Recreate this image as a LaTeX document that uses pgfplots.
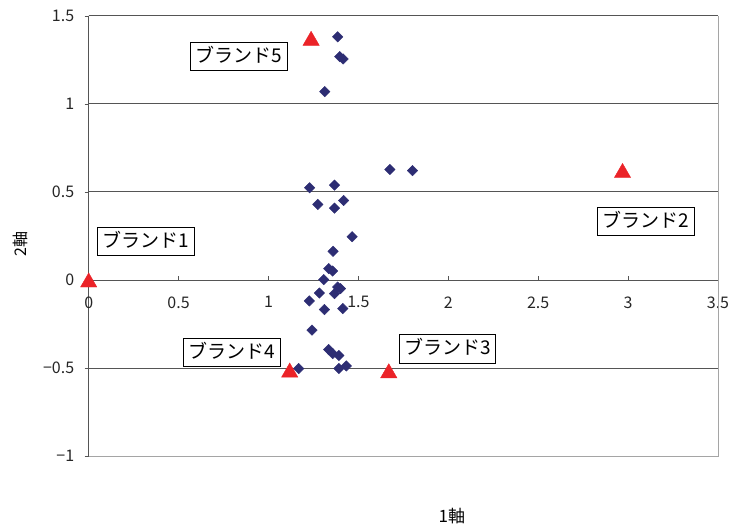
\documentclass[border=0pt]{standalone}
\usepackage{fontspec}
\setmainfont{Noto Sans CJK JP}
\usepackage{pgfplots}
\pgfplotsset{compat=1.18}

\definecolor{navy}{RGB}{45,45,115}
\definecolor{brandred}{RGB}{235,35,40}
\definecolor{gridgray}{RGB}{85,85,85}
\definecolor{framegray}{RGB}{165,165,165}

% respondents (diamonds)
\pgfplotstableread{
x y
1.385 1.382
1.396 1.269
1.415 1.256
1.313 1.070
1.229 0.524
1.367 0.539
1.274 0.429
1.418 0.452
1.367 0.408
1.465 0.246
1.359 0.163
1.675 0.628
1.801 0.621
1.335 0.065
1.357 0.051
1.307 0.002
1.385 -0.040
1.400 -0.049
1.367 -0.077
1.283 -0.074
1.227 -0.119
1.311 -0.168
1.413 -0.162
1.242 -0.285
1.335 -0.395
1.357 -0.418
1.391 -0.429
1.168 -0.503
1.391 -0.503
1.433 -0.488
}\resp

% brands (triangles)
\pgfplotstableread{
x y
0.000 0.000
2.969 0.622
1.669 -0.516
1.118 -0.512
1.237 1.373
}\brands

\begin{document}
\begin{tikzpicture}
\begin{axis}[
    name=ax,
    scale only axis,
    width=629.3bp, height=440bp,
    xmin=0, xmax=3.5,
    ymin=-1, ymax=1.5,
    clip=false,
    axis x line=middle,
    axis y line=left,
    hide obscured x ticks=false,
    hide obscured y ticks=false,
    axis line style={-, draw=gridgray, line width=1bp},
    xtick={0,0.5,1,1.5,2,2.5,3,3.5},
    xticklabels={0,0.5,1,1.5,2,2.5,3,3.5},
    ytick={-1,-0.5,0,0.5,1,1.5},
    yticklabels={−1,−0.5,0,0.5,1,1.5},
    xtick align=inside,
    ytick align=outside,
    major tick length=4bp,
    tick style={draw=gridgray, line width=0.8bp},
    ticklabel style={font=\fontsize{16bp}{19bp}\selectfont, text=black!85},
    xticklabel style={anchor=north, yshift=-13bp},
    yticklabel style={anchor=east, xshift=-7bp},
    ymajorgrids=true,
    grid style={draw=gridgray, line width=1bp},
    xlabel={1軸},
    ylabel={2軸},
    xlabel style={at={(axis description cs:0.577,0)}, anchor=center,
        yshift=-60.5bp, font=\fontsize{17bp}{20bp}\selectfont},
    ylabel style={at={(axis description cs:-0.109,0.482)}, anchor=center,
        font=\fontsize{16bp}{19bp}\selectfont},
    every node/.append style={text=black!85},
]
% plot frame
\draw[framegray, line width=1bp] (rel axis cs:0,0) -- (rel axis cs:1,0) -- (rel axis cs:1,1);
\draw[gridgray, line width=1bp] (rel axis cs:0,1) -- (rel axis cs:1,1);

\addplot[only marks, mark=square*, mark size=3.7bp,
    mark options={rotate=45, fill=navy, draw=navy, line width=0.4bp}]
    table[x=x, y=y] {\resp};

\addplot[only marks, mark=triangle*, mark size=9.4bp,
    mark options={fill=brandred, draw=brandred, yshift=-2.3bp}]
    table[x=x, y=y] {\brands};

\tikzset{lab/.style={draw=black, line width=0.9bp, fill=white, inner xsep=5bp,
    inner ysep=6bp, text height=14bp, text depth=2.5bp,
    font=\fontsize{19bp}{22bp}\selectfont}}
\node[lab] at (axis cs:0.317,0.219) {ブランド1};
\node[lab] at (axis cs:3.099,0.332) {ブランド2};
\node[lab] at (axis cs:1.996,-0.391) {ブランド3};
\node[lab] at (axis cs:0.797,-0.411) {ブランド4};
\node[lab] at (axis cs:0.837,1.269) {ブランド5};
\end{axis}
\pgfresetboundingbox
\path[use as bounding box] ([shift={(-88.7bp,-72bp)}]ax.south west)
    rectangle ([shift={(13bp,16bp)}]ax.north east);
\end{tikzpicture}
\end{document}
